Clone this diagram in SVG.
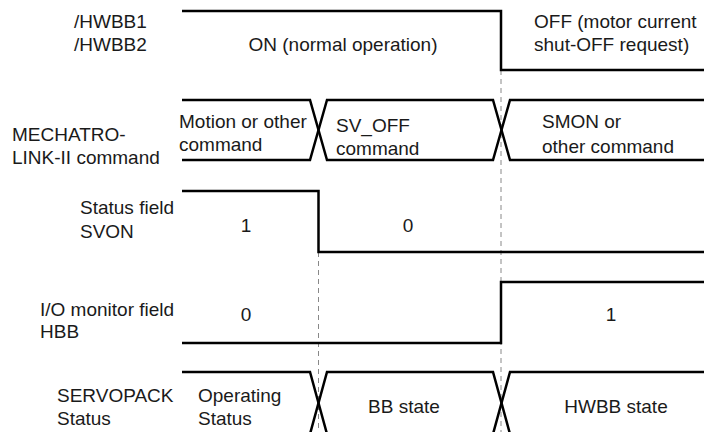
<svg xmlns="http://www.w3.org/2000/svg" width="704" height="432" viewBox="0 0 704 432">
<style>
text{font-family:"Liberation Sans",Arial,sans-serif;font-size:19px;fill:#1a1a1a}
.c{text-anchor:middle}
.sig{fill:none;stroke:#000;stroke-width:2.5;stroke-linejoin:miter}
.dash{fill:none;stroke:#888;stroke-width:1;stroke-dasharray:5 4}
</style>
<rect width="704" height="432" fill="#fff"/>
<g id="guides">
<line class="dash" x1="501" y1="70" x2="501" y2="432"/>
<line class="dash" x1="318.5" y1="252" x2="318.5" y2="432"/>
</g>
<g id="hwbb">
<path class="sig" d="M182,11 H501 V70 H704"/>
<text x="74" y="28">/HWBB1</text>
<text x="74" y="51">/HWBB2</text>
<text class="c" x="343" y="51">ON (normal operation)</text>
<text x="534" y="28">OFF (motor current</text>
<text x="534" y="51">shut-OFF request)</text>
</g>
<g id="mechatrolink">
<path class="sig" d="M182,100 H310 L327,160 H493 L510,100 H704"/>
<path class="sig" d="M182,160 H310 L327,100 H493 L510,160 H704"/>
<text x="12" y="141">MECHATRO-</text>
<text x="12" y="164">LINK-II command</text>
<text x="179" y="127.5">Motion or other</text>
<text x="179" y="150.5">command</text>
<text x="336" y="132">SV_OFF</text>
<text x="336" y="155">command</text>
<text x="542" y="127.5">SMON  or</text>
<text x="542" y="152.5">other command</text>
</g>
<g id="svon">
<path class="sig" d="M182,191 H318.5 V252 H704"/>
<text x="80" y="214">Status field</text>
<text x="80" y="238">SVON</text>
<text class="c" x="246" y="232">1</text>
<text class="c" x="408" y="232">0</text>
</g>
<g id="hbb">
<path class="sig" d="M182,343 H501 V282 H704"/>
<text x="40" y="316">I/O monitor field</text>
<text x="40" y="338">HBB</text>
<text class="c" x="246" y="320.5">0</text>
<text class="c" x="611" y="320.5">1</text>
</g>
<g id="servopack">
<path class="sig" d="M182,372 H310 L327,434 H493 L510,372 H704"/>
<path class="sig" d="M310,434 L327,372 H493 L510,434"/>
<text x="57" y="402">SERVOPACK</text>
<text x="57" y="425">Status</text>
<text x="198" y="402">Operating</text>
<text x="198" y="425">Status</text>
<text class="c" x="404" y="413">BB state</text>
<text class="c" x="616" y="413">HWBB state</text>
</g>
</svg>
